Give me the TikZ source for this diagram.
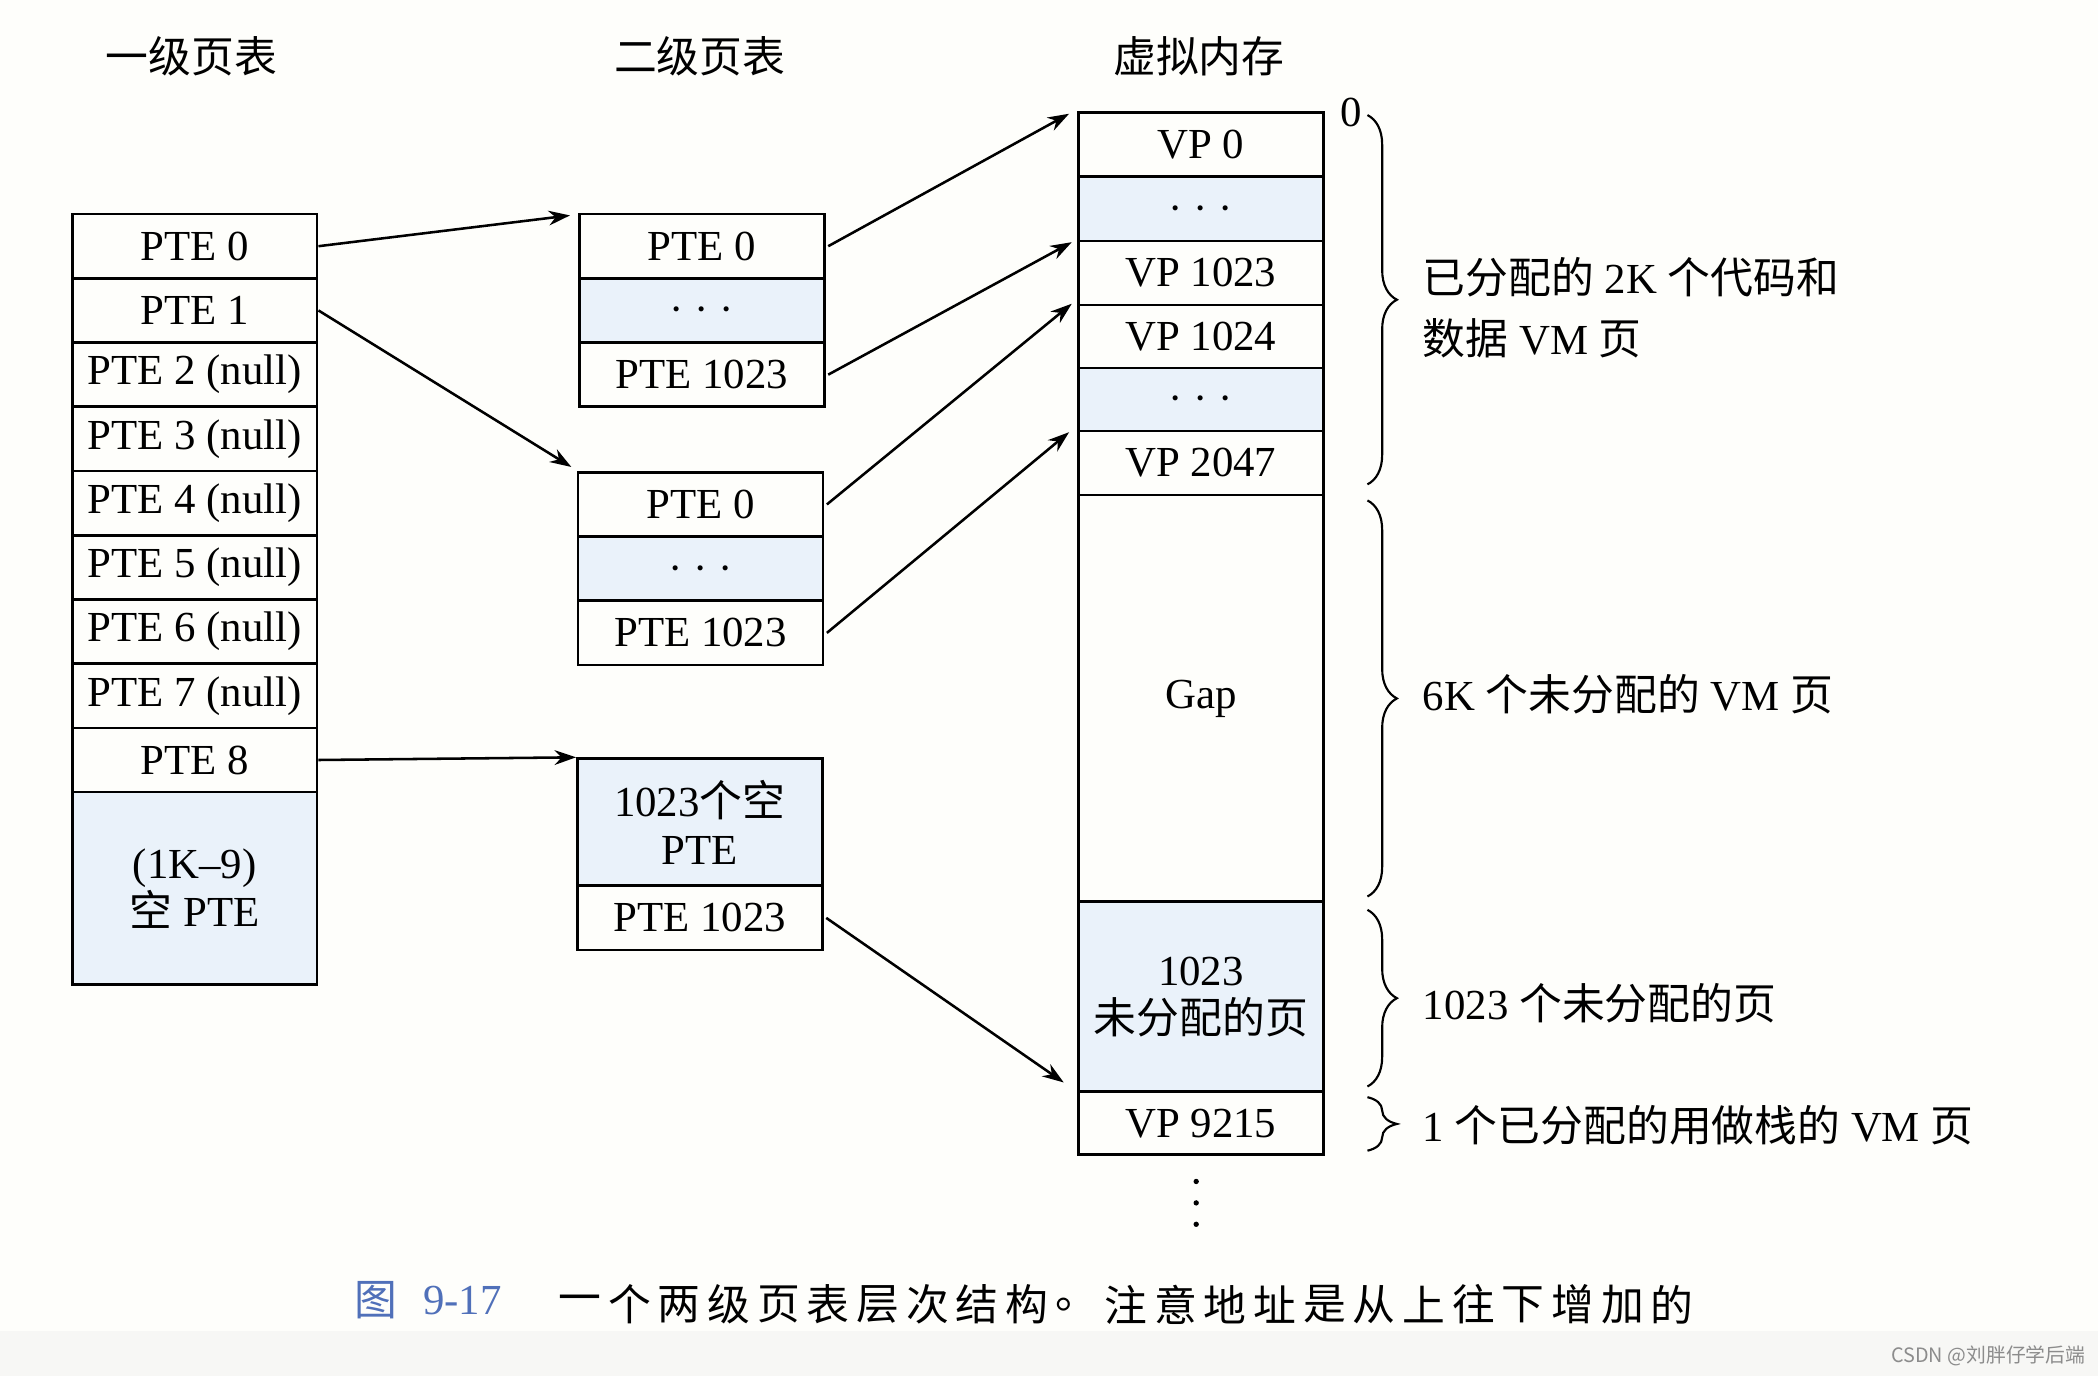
\documentclass[tikz,border=0pt]{standalone}
\usepackage{fontspec}
\setmainfont{Liberation Serif}
\newfontfamily\zhfont{Noto Sans CJK SC}
\usetikzlibrary{arrows.meta,decorations.pathreplacing}
\definecolor{cellblue}{RGB}{234,242,250}
\definecolor{capblue}{RGB}{80,112,185}
\definecolor{bgwarm}{RGB}{254,254,251}
\definecolor{bgband}{RGB}{247,247,245}
\newcommand\zhs{\zhfont}
\begin{document}
\begin{tikzpicture}[x=0.5pt,y=-0.5pt,
  txt/.style={font=\fontsize{16pt}{18pt}\selectfont, inner sep=0pt},
  cell/.style={txt, draw, line width=1pt, minimum width=91.5pt, align=center},
  shaded/.style={fill=cellblue},
  dotcell/.style={text height=10pt, text depth=0pt},
  arr/.style={line width=0.95pt, -{Stealth[length=8pt,width=5.5pt]}},
  br/.style={line width=0.8pt, decorate, decoration={brace, amplitude=11pt}},
  captext/.style={font=\fontsize{16pt}{18pt}\selectfont\zhs, inner sep=0pt}
]
\useasboundingbox (0,0) rectangle (1568,1028.4);
\fill[bgwarm] (0,0) rectangle (1568,1028.4);
\fill[bgband] (0,995) rectangle (1568,1028.4);

% headings
\node[txt] (h1) at (143,42) {\zhs 一级页表};
\node[txt] (h2) at (523,42) {\zhs 二级页表};
\node[txt] (h3) at (896,42) {\zhs 虚拟内存};

% level 1 page table
\node[cell,minimum height=24pt] (p0) at (145.5,184) {PTE 0};
\node[cell,minimum height=24pt] (p1) at (145.5,232) {PTE 1};
\node[cell,minimum height=24pt] (p2) at (145.5,280) {PTE 2 (null)};
\node[cell,minimum height=24pt] (p3) at (145.5,328) {PTE 3 (null)};
\node[cell,minimum height=24pt] (p4) at (145.5,376) {PTE 4 (null)};
\node[cell,minimum height=24pt] (p5) at (145.5,424) {PTE 5 (null)};
\node[cell,minimum height=24pt] (p6) at (145.5,472) {PTE 6 (null)};
\node[cell,minimum height=24pt] (p7) at (145.5,520) {PTE 7 (null)};
\node[cell,minimum height=24pt] (p8) at (145.5,568) {PTE 8};
\node[cell,shaded,minimum height=72pt] (prest) at (145.5,664) {(1K–9)\\{\zhs 空} PTE};

% level 2 table A
\node[cell,minimum height=24pt] (a0) at (524.5,184) {PTE 0};
\node[cell,shaded,dotcell,minimum height=24pt] (a1) at (524.5,232) {· · ·};
\node[cell,minimum height=24pt] (a2) at (524.5,280) {PTE 1023};
% level 2 table B
\node[cell,minimum height=24pt] (b0) at (523.5,377) {PTE 0};
\node[cell,shaded,dotcell,minimum height=24pt] (b1) at (523.5,425) {· · ·};
\node[cell,minimum height=24pt] (b2) at (523.5,473) {PTE 1023};
% level 2 table C
\node[cell,shaded,minimum height=47.5pt] (c0) at (523,614.5) {1023{\zhs 个空}\\PTE};
\node[cell,minimum height=24pt] (c1) at (523,686) {PTE 1023};

% virtual memory
\node[cell,minimum height=24pt] (v0) at (897.5,108) {VP 0};
\node[cell,shaded,dotcell,minimum height=24pt] (v1) at (897.5,156) {· · ·};
\node[cell,minimum height=24pt] (v2) at (897.5,204) {VP 1023};
\node[cell,minimum height=23.5pt] (v3) at (897.5,251.5) {VP 1024};
\node[cell,shaded,dotcell,minimum height=23.5pt] (v4) at (897.5,298.5) {· · ·};
\node[cell,minimum height=24pt] (v5) at (897.5,346) {VP 2047};
\node[cell,minimum height=152pt] (gap) at (897.5,522) {Gap};
\node[cell,shaded,minimum height=71pt] (free) at (897.5,745) {1023\\{\zhs 未分配的页}};
\node[cell,minimum height=23.5pt] (v9215) at (897.5,839.5) {VP 9215};

\node[txt] (zero) at (1010,84) {0};

% continuation dots
\fill (894,883) circle (1pt);
\fill (894,899) circle (1pt);
\fill (894,915) circle (1pt);

% arrows
\draw[arr] (p0.east) -- ([xshift=-3pt,yshift=-1pt]a0.north west);
\draw[arr] (p1.east) -- ([xshift=-2pt,yshift=1.5pt]b0.north west);
\draw[arr] (p8.east) -- (c0.north west);
\draw[arr] ([xshift=1pt]a0.east) -- ([xshift=-3pt,yshift=-1pt]v0.north west);
\draw[arr] ([xshift=1pt]a2.east) -- ([xshift=-2pt,yshift=-1pt]v2.north west);
\draw[arr] ([xshift=1pt]b0.east) -- ([xshift=-2pt]v3.north west);
\draw[arr] ([xshift=1pt]b2.east) -- ([xshift=-3pt,yshift=-1pt]v5.north west);
\draw[arr] ([xshift=1pt]c1.east) -- ([xshift=-5pt,yshift=3pt]v9215.north west);

% braces
\draw[br] (1022,86) -- (1022,362);
\draw[br] (1022,374) -- (1022,670);
\draw[br] (1022,680) -- (1022,812);
\draw[br] (1022,820) -- (1022,860);

% brace labels
\node[txt,anchor=west,align=left] (lab1) at (1063,230) {{\zhs 已分配的} 2K {\zhs 个代码和}\\[4.5pt]{\zhs 数据} VM {\zhs 页}};
\node[txt,anchor=west] (lab2) at (1063,519) {6K {\zhs 个未分配的} VM {\zhs 页}};
\node[txt,anchor=west] (lab3) at (1063,750) {1023 {\zhs 个未分配的页}};
\node[txt,anchor=west] (lab4) at (1063,841) {1 {\zhs 个已分配的用做栈的} VM {\zhs 页}};

% caption
\node[captext,text=capblue] (capfig) at (281,972) {图};
\node[txt,text=capblue] (capnum) at (345.5,972) {9-17};
\foreach \c [count=\i from 0] in {一,个,两,级,页,表,层,次,结,构,。,注,意,地,址,是,从,上,往,下,增,加,的}
  \node[captext] (cap\i) at ({433.5+37.1*\i},975) {\c};

% watermark
\node[inner sep=0pt,text=black!45,font=\fontsize{7.4pt}{9pt}\selectfont\zhs] (wm) at (1486,1013) {CSDN @刘胖仔学后端};
\end{tikzpicture}
\end{document}
